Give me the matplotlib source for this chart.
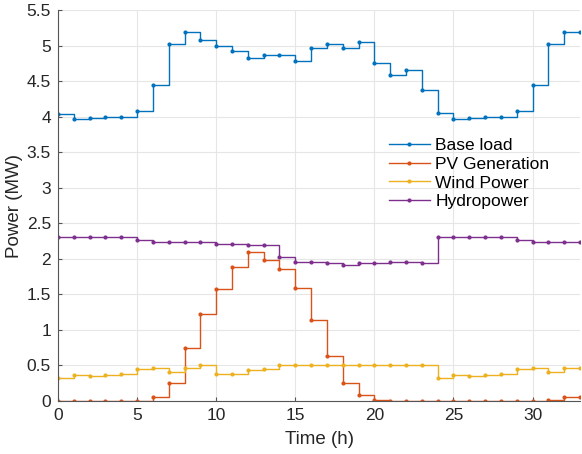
import matplotlib.pyplot as plt

plt.rcParams['font.family'] = ['Liberation Sans', 'DejaVu Sans']

hours = list(range(0, 34))

base_load = [4.04, 3.96, 3.98, 4.00, 4.00, 4.08, 4.44, 5.02, 5.19, 5.08,
             4.99, 4.92, 4.82, 4.87, 4.87, 4.78, 4.97, 5.02, 4.97, 5.05,
             4.76, 4.58, 4.66, 4.37, 4.05, 3.96, 3.98, 4.00, 4.00, 4.08,
             4.44, 5.02, 5.19, 5.19]
pv_gen = [0.0, 0.0, 0.0, 0.0, 0.0, 0.0, 0.06, 0.26, 0.74, 1.22,
          1.58, 1.88, 2.10, 1.99, 1.86, 1.59, 1.14, 0.64, 0.26, 0.08,
          0.02, 0.0, 0.0, 0.0, 0.0, 0.0, 0.0, 0.0, 0.0, 0.0,
          0.0, 0.01, 0.05, 0.05]
wind = [0.33, 0.36, 0.35, 0.36, 0.38, 0.45, 0.47, 0.41, 0.47, 0.50,
        0.38, 0.38, 0.44, 0.45, 0.50, 0.50, 0.50, 0.50, 0.50, 0.50,
        0.50, 0.50, 0.50, 0.50, 0.33, 0.36, 0.35, 0.36, 0.38, 0.45,
        0.47, 0.41, 0.47, 0.47]
hydro = [2.30, 2.30, 2.30, 2.30, 2.30, 2.27, 2.24, 2.24, 2.24, 2.24,
         2.21, 2.21, 2.20, 2.20, 2.02, 1.95, 1.95, 1.94, 1.92, 1.94,
         1.94, 1.95, 1.95, 1.94, 2.31, 2.30, 2.30, 2.30, 2.30, 2.27,
         2.24, 2.24, 2.24, 2.24]

series = [
    ("Base load", base_load, "#0072BD"),
    ("PV Generation", pv_gen, "#D95319"),
    ("Wind Power", wind, "#EDB120"),
    ("Hydropower", hydro, "#7E2F8E"),
]

fig = plt.figure(figsize=(5.82, 4.54), dpi=100)
ax = fig.add_axes([0.0997, 0.1167, 0.8969, 0.8613])

for name, vals, col in series:
    ax.step(hours, vals, where='post', color=col, lw=1.0, marker='.',
            markersize=4, label=name)

ax.set_xlim(0, 33)
ax.set_ylim(0, 5.5)
ax.set_xticks(range(0, 31, 5))
ax.set_yticks([0, 0.5, 1, 1.5, 2, 2.5, 3, 3.5, 4, 4.5, 5, 5.5])
ax.set_yticklabels(['0', '0.5', '1', '1.5', '2', '2.5', '3', '3.5', '4', '4.5', '5', '5.5'])
ax.grid(True, color='#e6e6e6', lw=0.8)
ax.set_axisbelow(True)
for s in ['top', 'right']:
    ax.spines[s].set_visible(False)
for s in ['left', 'bottom']:
    ax.spines[s].set_color('#555555')
    ax.spines[s].set_linewidth(0.8)
ax.tick_params(direction='in', length=3, labelsize=12.5, colors='#262626',
               color='#555555', pad=5)
ax.set_xlabel('Time (h)', fontsize=13.5, color='#262626', labelpad=6)
ax.set_ylabel('Power (MW)', fontsize=13.5, color='#262626', labelpad=3)

ax.legend(loc='upper left', bbox_to_anchor=(0.62, 0.69), frameon=False,
          fontsize=12.5, handlelength=2.4, handletextpad=0.3, labelspacing=0.2,
          borderaxespad=0)

fig.savefig('out.png', dpi=100)
